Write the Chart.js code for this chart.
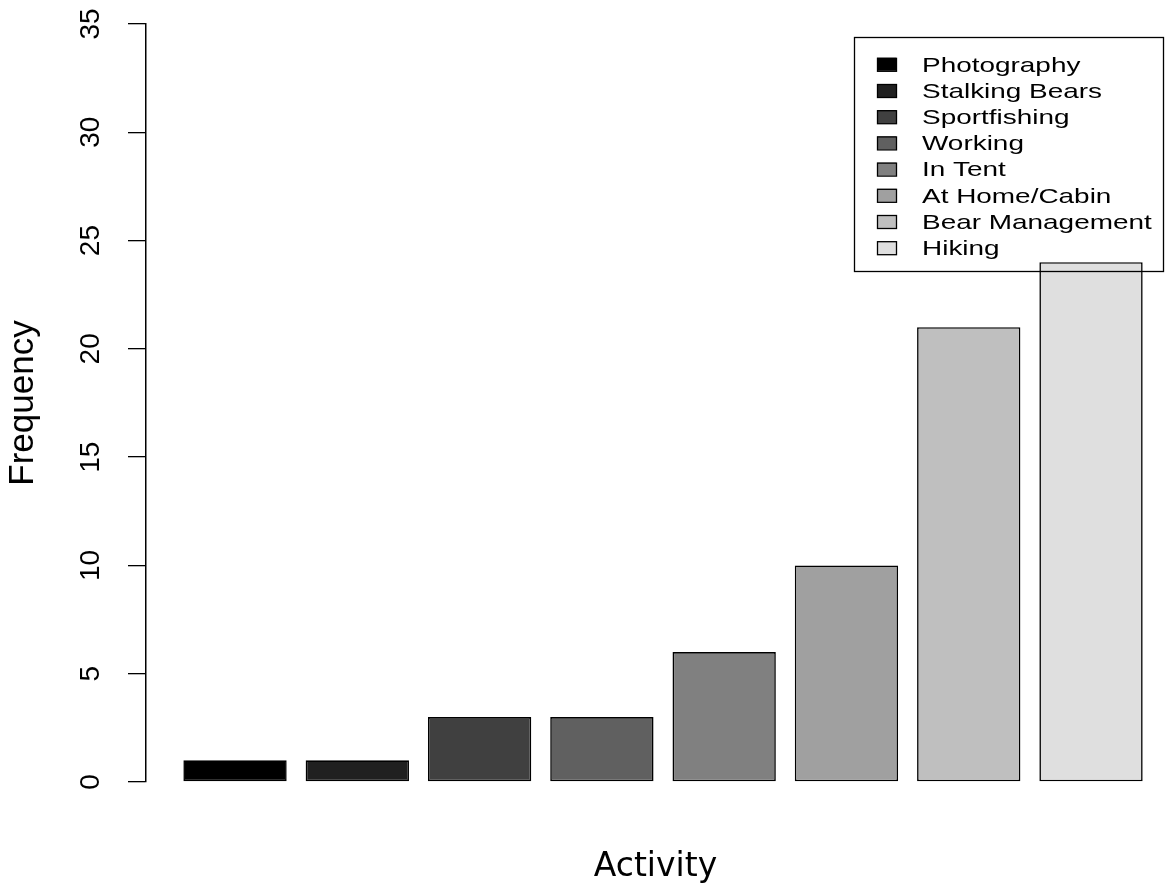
<!DOCTYPE html>
<html lang="en">
<head>
    <meta charset="UTF-8">
    <title>Activity frequency</title>
    <style type="text/css">
        body{
            margin: 0;
            background: #ffffff;
        }
    </style>
    <script src="https://cdn.jsdelivr.net/npm/chart.js@4.4.1/dist/chart.umd.min.js"></script>
</head>
<body>
    <canvas id="myChart" width="1165" height="887"></canvas>

    <script>
    // data
    const activities = ['Photography', 'Stalking Bears', 'Sportfishing', 'Working',
                        'In Tent', 'At Home/Cabin', 'Bear Management', 'Hiking'];
    const frequency = [1, 1, 3, 3, 6, 10, 21, 24];
    const barColors = ['#000000', '#202020', '#404040', '#606060',
                       '#808080', '#A0A0A0', '#BFBFBF', '#DFDFDF'];
    const yTicks = [0, 5, 10, 15, 20, 25, 30, 35];

    // bars sit at x = 0..7 on a linear axis so the y axis can stand left of the first bar
    const points = frequency.map((v, i) => ({ x: i, y: v }));

    // R style legend box, drawn after the bars (no fill)
    const boxLegend = {
        id: 'boxLegend',
        afterDraw(chart) {
            const ctx = chart.ctx;
            const area = chart.chartArea;
            const left = area.right - 311, top = area.top + 13;
            const right = area.right - 2, bottom = area.top + 247;
            ctx.save();
            ctx.strokeStyle = '#000';
            ctx.lineWidth = 1.3;
            ctx.strokeRect(left + 0.5, top + 0.5, right - left, bottom - top);
            activities.forEach((name, i) => {
                const cy = top + 27.8 + i * 26.2;
                ctx.fillStyle = barColors[i];
                ctx.fillRect(left + 23, cy - 7, 19, 13);
                ctx.strokeRect(left + 23.5, cy - 6.5, 19, 13);
                ctx.save();
                ctx.translate(left + 68, cy);
                ctx.scale(1.33, 1);
                ctx.fillStyle = '#000';
                ctx.font = '21px "Liberation Sans", Arial, sans-serif';
                ctx.textBaseline = 'middle';
                ctx.fillText(name, 0, 1);
                ctx.restore();
            });
            ctx.restore();
        }
    };

    const data = {
        datasets: [{
            label: 'Frequency',
            data: points,
            backgroundColor: barColors,
            borderColor: '#000000',
            borderWidth: 1.6,
            borderSkipped: false,
            categoryPercentage: 1,
            barPercentage: 0.845
        }]
    };

    const config = {
        type: 'bar',
        data,
        options: {
            responsive: false,
            devicePixelRatio: 1,
            animation: false,
            layout: {
                padding: { top: 24, right: 0, bottom: 0, left: 0 }
            },
            plugins: {
                legend: { display: false },
                tooltip: { enabled: false }
            },
            scales: {
                x: {
                    type: 'linear',
                    offset: false,
                    min: -0.728,
                    max: 7.605,
                    // one tick per bar, so the bar width comes from the bar spacing
                    afterBuildTicks: scale => {
                        scale.ticks = frequency.map((v, i) => ({ value: i }));
                    },
                    grid: { display: false },
                    border: { display: false },
                    ticks: { display: false },
                    title: {
                        display: true,
                        text: 'Activity',
                        color: '#000',
                        font: { family: '"DejaVu Sans", sans-serif', size: 33 },
                        padding: 0
                    },
                    afterFit: scale => { scale.height = 105; }
                },
                y: {
                    min: 0,
                    max: 35,
                    afterBuildTicks: scale => {
                        scale.ticks = yTicks.map(v => ({ value: v }));
                    },
                    grid: {
                        drawOnChartArea: false,
                        drawTicks: true,
                        tickLength: 18,
                        color: '#000',
                        lineWidth: 1.3
                    },
                    border: { display: true, color: '#000', width: 1.5 },
                    ticks: {
                        color: '#000',
                        minRotation: 90,
                        maxRotation: 90,
                        crossAlign: 'center',
                        padding: 21,
                        font: { family: '"Liberation Sans Narrow", "Liberation Sans", sans-serif', size: 28 }
                    },
                    title: {
                        display: true,
                        text: 'Frequency',
                        color: '#000',
                        font: { family: '"Liberation Sans", Arial, sans-serif', size: 35 },
                        padding: { top: 2, bottom: 0 }
                    },
                    afterFit: scale => {
                        scale.width = 146;
                        scale.paddingTop = 0;
                        scale.paddingBottom = 0;
                    }
                }
            }
        },
        plugins: [boxLegend]
    };

    const myChart = new Chart(
        document.getElementById('myChart'),
        config
    );
    </script>
</body>
</html>
